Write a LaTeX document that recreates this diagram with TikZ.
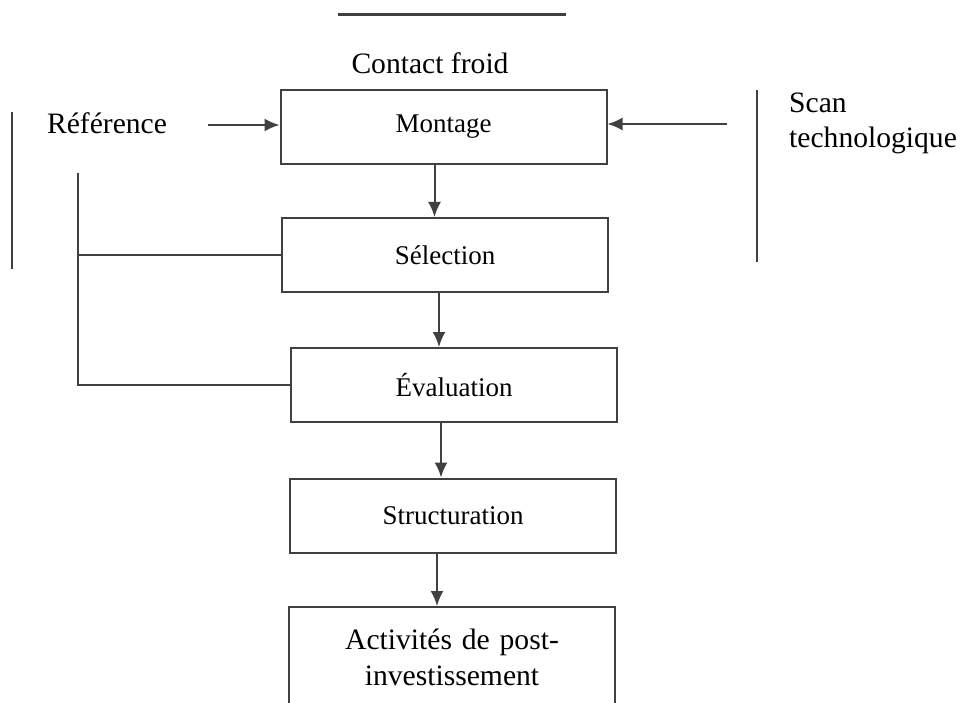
\documentclass[tikz,border=0pt]{standalone}
\usepackage{fontspec}
\setmainfont{Liberation Serif}
\usetikzlibrary{arrows.meta,calc}
\definecolor{encre}{HTML}{404040}
\tikzstyle{phase}=[draw=encre, line width=2pt, minimum width=326pt,
  minimum height=74pt, text centered, inner sep=0pt,
  font=\fontsize{27}{30}\selectfont]
\tikzstyle{libre}=[inner sep=0pt, font=\fontsize{29.6}{35}\selectfont]
\tikzstyle{fleche}=[draw=encre, line width=2pt, -{Latex[length=15pt,width=13pt]}]
\tikzstyle{trait}=[draw=encre, line width=2pt]
\newcommand{\phase}[2]{node (e#1) [phase]
  {#2}}

\begin{document}
\begin{tikzpicture}[x=1pt,y=-1pt]
  \useasboundingbox (0,0) rectangle (963,703);
  \path (443.5,127) \phase{1}{Montage};
  \path (445,255) \phase{2}{Sélection};
  \path (454,385) \phase{3}{Évaluation};
  \path (453,515.5) \phase{4}{Structuration};
  \path (452,657) node (e5) [phase, minimum height=100pt, text width=320pt,
    align=center, font=\fontsize{29.6}{36}\selectfont]
    {Activités de post-\\investissement};

  \node (cf) [libre, anchor=base] at (430,74) {Contact froid};
  \node (ref) [libre, anchor=base] at (107,134) {Référence};
  \node (scan) [libre, anchor=north west, align=left] at (789,93) {Scan\\technologique};

  % free ends of the side arrows and of the left bracket
  \coordinate (rs) at (208,125);
  \coordinate (ss) at (727,124);
  \coordinate (lt) at (78,173);

  \draw [fleche] (rs) -- (rs -| e1.west);
  \draw [fleche] (ss) -- (ss -| e1.east);
  \foreach \a/\b/\s in {1/2/-9,2/3/-6,3/4/-13,4/5/-16}
    \draw [fleche] ([xshift=\s pt]e\a.south) -- ([xshift=\s pt]e\a.south |- e\b.north);

  \draw [trait] (lt) |- (e3.west);
  \draw [trait] (lt |- e2.west) -- (e2.west);

  % plain strokes
  \draw [trait, line width=3pt] (338,15) -- (566,15);
  \draw [trait] (12,112) -- (12,269);
  \draw [trait] (757,90) -- (757,262);
\end{tikzpicture}
\end{document}
